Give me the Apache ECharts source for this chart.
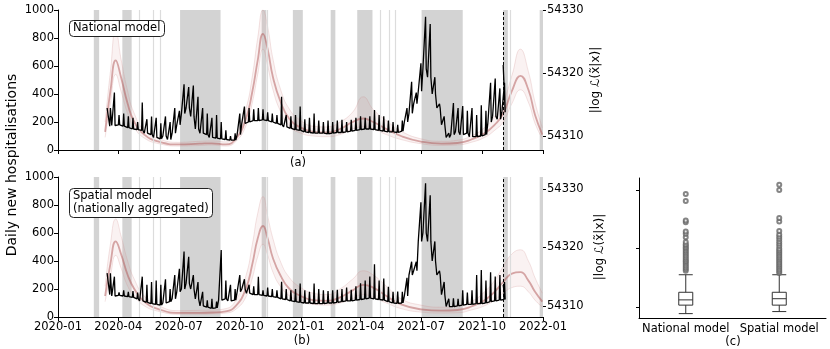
<!DOCTYPE html>
<html>
<head>
<meta charset="utf-8">
<script src="https://cdn.jsdelivr.net/npm/echarts@6/dist/echarts.min.js"></script>
<style>
  html, body { margin: 0; padding: 0; background: #fff; }
  #chart { width: 830px; height: 349px; }
</style>
</head>
<body>
<div id="chart"></div>
<script>
// observed daily admissions, one [base, spike] pair per week from obsStart
const obsStart = '2020-03-15';
const obsEnd = '2021-11-02';
const obsNational = [
  [300, 170], [175, 410], [180, 250], [170, 260], [160, 240],
  [150, 230], [145, 200], [140, 340], [120, 220], [110, 240],
  [90, 230], [80, 190], [100, 240], [75, 200], [120, 300],
  [180, 280], [260, 470], [300, 450], [240, 460], [150, 380],
  [120, 300], [110, 260], [90, 230], [85, 250], [80, 200],
  [75, 140], [70, 100], [70, 120], [110, 260], [190, 310],
  [200, 300], [210, 290], [210, 300], [215, 290], [210, 270],
  [200, 260], [190, 250], [180, 380], [165, 250], [155, 240],
  [145, 250], [140, 310], [130, 220], [125, 230], [120, 260],
  [120, 210], [120, 200], [115, 210], [120, 200], [125, 210],
  [125, 215], [130, 200], [135, 215], [140, 230], [145, 240],
  [150, 230], [150, 240], [145, 285], [140, 250], [135, 240],
  [130, 210], [130, 200], [125, 180], [135, 210], [200, 300],
  [262, 488], [330, 410], [420, 620], [580, 952], [520, 900],
  [400, 520], [300, 330], [180, 240], [90, 120], [110, 336],
  [130, 300], [110, 314], [120, 280], [95, 300], [95, 250],
  [100, 320], [110, 280], [200, 480], [240, 510], [220, 440],
  [270, 480]
];
const obsNationalLast = 607;
const obsSpatial = [
  [313, 160], [150, 288], [155, 175], [150, 190], [145, 180],
  [140, 185], [130, 175], [115, 288], [105, 230], [95, 250],
  [90, 260], [85, 230], [100, 270], [110, 200], [130, 300],
  [180, 345], [200, 467], [240, 430], [200, 300], [130, 250],
  [80, 180], [70, 120], [62, 130], [65, 110], [120, 478],
  [130, 260], [115, 230], [120, 200], [180, 300], [200, 270],
  [170, 230], [160, 220], [160, 288], [155, 190], [150, 210],
  [145, 200], [140, 190], [130, 252], [125, 200], [115, 190],
  [110, 200], [105, 240], [100, 190], [100, 180], [95, 240],
  [95, 200], [95, 190], [100, 185], [100, 190], [105, 195],
  [110, 200], [115, 210], [115, 195], [120, 220], [125, 240],
  [130, 260], [135, 290], [130, 377], [125, 260], [120, 275],
  [110, 216], [100, 180], [98, 181], [100, 180], [150, 280],
  [300, 395], [330, 395], [540, 820], [600, 955], [540, 870],
  [400, 540], [300, 330], [160, 250], [75, 130], [74, 133],
  [80, 130], [85, 190], [90, 175], [90, 190], [95, 300],
  [95, 336], [100, 260], [110, 320], [115, 290], [121, 300],
  [125, 250]
];
const obsSpatialLast = 229;

// model trajectories: central line and spread
const fitDates = [
  '2020-03-12', '2020-03-20', '2020-03-28', '2020-04-05', '2020-04-15', '2020-04-25',
  '2020-05-10', '2020-06-01', '2020-07-01', '2020-08-01', '2020-08-20', '2020-09-10',
  '2020-09-25', '2020-10-10', '2020-10-20', '2020-10-28', '2020-11-05', '2020-11-12',
  '2020-11-20', '2020-12-01', '2020-12-15', '2021-01-01', '2021-01-20', '2021-02-10',
  '2021-03-01', '2021-03-20', '2021-04-05', '2021-04-20', '2021-05-10', '2021-06-01',
  '2021-07-01', '2021-08-01', '2021-08-25', '2021-09-15', '2021-10-05', '2021-10-20',
  '2021-11-02', '2021-11-15', '2021-11-28', '2021-12-10', '2021-12-20', '2021-12-31'
];
const natMean = [130, 420, 640, 520, 330, 200, 110, 60, 40, 45, 48, 40, 80, 220, 420, 640, 830, 720, 520, 350, 220, 160, 130, 125, 150, 200, 225, 200, 150, 100, 60, 45, 50, 75, 120, 180, 260, 420, 530, 430, 250, 110];
const natLo = [90, 330, 540, 420, 260, 160, 85, 45, 28, 32, 35, 28, 60, 170, 340, 540, 720, 600, 430, 280, 170, 120, 100, 95, 110, 150, 165, 150, 110, 75, 45, 33, 36, 55, 90, 140, 200, 330, 430, 340, 190, 80];
const natHi = [200, 560, 860, 650, 420, 260, 140, 80, 55, 62, 65, 58, 110, 290, 530, 800, 1000, 880, 650, 440, 290, 210, 170, 165, 200, 270, 380, 290, 210, 135, 80, 62, 70, 100, 160, 240, 340, 530, 720, 560, 340, 160];
const spaMean = [150, 380, 540, 450, 300, 200, 110, 55, 30, 30, 32, 40, 80, 200, 380, 560, 650, 560, 420, 300, 200, 150, 120, 115, 140, 190, 230, 210, 150, 90, 55, 45, 50, 75, 120, 180, 250, 310, 320, 260, 180, 110];
const spaLo = [110, 290, 440, 350, 220, 150, 80, 40, 20, 20, 22, 28, 55, 140, 280, 430, 520, 440, 320, 220, 150, 110, 90, 85, 100, 130, 160, 140, 100, 60, 35, 28, 30, 50, 80, 120, 170, 210, 220, 180, 120, 70];
const spaHi = [220, 520, 700, 580, 400, 270, 150, 80, 45, 48, 50, 60, 120, 290, 520, 740, 860, 720, 560, 400, 280, 210, 170, 160, 200, 270, 330, 300, 220, 130, 85, 70, 80, 110, 180, 260, 360, 450, 480, 400, 280, 170];

// shaded periods and single days
const spans = [
  ['2020-02-24', '2020-03-03'], ['2020-04-07', '2020-04-21'], ['2020-07-03', '2020-09-02'],
  ['2020-11-03', '2020-11-10'], ['2020-12-20', '2021-01-04'], ['2021-02-15', '2021-02-22'],
  ['2021-03-27', '2021-04-19'], ['2021-07-02', '2021-09-02'], ['2021-11-02', '2021-11-09'],
  ['2021-12-27', '2022-01-01']
];
const thinDays = ['2020-05-02', '2020-05-23', '2020-06-03', '2020-11-12', '2021-05-01', '2021-05-14', '2021-05-24', '2021-11-12'];
const cutoff = '2021-11-02';

// boxplot: [low whisker, Q1, median, Q3, high whisker]
const boxCats = ['National model', 'Spatial model'];
const boxNational = [54308.85, 54310.3, 54311.2, 54312.5, 54315.5];
const boxSpatial = [54309.2, 54310.3, 54311.4, 54312.5, 54315.5];
const outNational = [54316.2, 54316.5, 54316.8, 54317.1, 54317.4, 54317.7, 54317.9, 54318.2, 54318.5, 54318.8, 54319.1, 54319.4, 54319.7, 54320.0, 54320.2, 54320.5, 54320.7, 54321.1, 54321.9, 54322.5, 54322.9, 54324.5, 54324.8, 54328.1, 54329.3];
const outSpatial = [54315.8, 54316.1, 54316.4, 54316.7, 54317.0, 54317.3, 54317.6, 54317.9, 54318.2, 54318.5, 54318.8, 54319.1, 54319.4, 54319.7, 54320.0, 54320.4, 54320.8, 54321.2, 54321.6, 54322.0, 54322.4, 54323.0, 54324.6, 54325.2, 54330.0, 54330.9];

const FONT = 'DejaVu Sans';
const DAY = 86400000;

function ts(s) {
  const p = s.split('-');
  return new Date(+p[0], +p[1] - 1, +p[2]).getTime();
}

// flat weekly base with a one-day reporting spike
function weekly(pairs, last) {
  const t0 = ts(obsStart);
  const out = [];
  pairs.forEach((p, i) => {
    out.push([t0 + 7 * i * DAY, p[0]]);
    out.push([t0 + (7 * i + 3) * DAY, p[0]]);
    out.push([t0 + (7 * i + 4) * DAY, p[1]]);
    out.push([t0 + (7 * i + 5) * DAY, p[0]]);
  });
  out.push([ts(obsEnd), last]);
  return out;
}

function timeAxis(gridIndex, labels) {
  return {
    type: 'time', gridIndex: gridIndex,
    min: ts('2020-01-01'), max: ts('2022-01-01'), splitNumber: 8,
    axisLine: { lineStyle: { color: '#000', width: 1 } },
    axisTick: { show: true, length: 4, lineStyle: { color: '#000' } },
    axisLabel: {
      show: labels, formatter: '{yyyy}-{MM}', color: '#000', fontSize: 11.5, fontFamily: FONT, margin: 4,
      showMinLabel: true, showMaxLabel: true, hideOverlap: false
    },
    splitLine: { show: false }
  };
}

function leftAxis(gridIndex) {
  return {
    type: 'value', gridIndex: gridIndex, min: 0, max: 1000, interval: 200,
    axisLine: { show: true, lineStyle: { color: '#000', width: 1 } },
    axisTick: { show: true, length: 4, lineStyle: { color: '#000' } },
    axisLabel: { color: '#000', fontSize: 11.5, fontFamily: FONT, margin: 4, formatter: v => String(v) },
    splitLine: { show: false }
  };
}

function llAxis(gridIndex, min, max, position, labels) {
  return {
    type: 'value', gridIndex: gridIndex, min: min, max: max, position: position,
    axisLine: { show: position === 'left', lineStyle: { color: '#000', width: 1 } },
    axisTick: { show: true, length: 3, customValues: [54310, 54320, 54330], lineStyle: { color: '#000' } },
    axisLabel: {
      show: labels, customValues: [54310, 54320, 54330], formatter: v => String(Math.round(v)),
      color: '#000', fontSize: 11.5, fontFamily: FONT, margin: 4
    },
    splitLine: { show: false }
  };
}

function panelSeries(axisIdx, obs, mean, lo, hi) {
  const lower = fitDates.map((d, i) => [ts(d), lo[i]]);
  const spread = fitDates.map((d, i) => [ts(d), hi[i] - lo[i]]);
  const upper = fitDates.map((d, i) => [ts(d), hi[i]]);
  return [
    {
      type: 'line', xAxisIndex: axisIdx, yAxisIndex: axisIdx * 2, z: 1, silent: true,
      data: [[ts('2020-01-01'), 0], [ts('2022-01-01'), 0]],
      symbol: 'none', lineStyle: { opacity: 0 },
      markArea: {
        silent: true, itemStyle: { color: '#d3d3d3' },
        data: spans.map(s => [{ xAxis: ts(s[0]) }, { xAxis: ts(s[1]) }])
      },
      markLine: {
        silent: true, symbol: 'none', label: { show: false },
        lineStyle: { color: '#dcdcdc', width: 1.2, type: 'solid' },
        data: thinDays.map(d => ({ xAxis: ts(d) }))
      }
    },
    {
      type: 'line', xAxisIndex: axisIdx, yAxisIndex: axisIdx * 2, z: 2, stack: 'band' + axisIdx,
      data: lower, symbol: 'none', smooth: true, lineStyle: { opacity: 0 }
    },
    {
      type: 'line', xAxisIndex: axisIdx, yAxisIndex: axisIdx * 2, z: 2, stack: 'band' + axisIdx,
      data: spread, symbol: 'none', smooth: true, lineStyle: { opacity: 0 },
      areaStyle: { color: 'rgba(214,150,150,0.18)' }
    },
    {
      type: 'line', xAxisIndex: axisIdx, yAxisIndex: axisIdx * 2, z: 3,
      data: upper, symbol: 'none', smooth: true,
      lineStyle: { color: 'rgba(205,130,130,0.22)', width: 1 }
    },
    {
      type: 'line', xAxisIndex: axisIdx, yAxisIndex: axisIdx * 2, z: 3,
      data: lower, symbol: 'none', smooth: true,
      lineStyle: { color: 'rgba(205,130,130,0.22)', width: 1 }
    },
    {
      type: 'line', xAxisIndex: axisIdx, yAxisIndex: axisIdx * 2, z: 3,
      data: fitDates.map((d, i) => [ts(d), mean[i]]), symbol: 'none', smooth: true,
      lineStyle: { color: 'rgba(175,85,85,0.5)', width: 1.8 }
    },
    {
      type: 'line', xAxisIndex: axisIdx, yAxisIndex: axisIdx * 2, z: 5,
      data: obs, symbol: 'none',
      lineStyle: { color: '#000', width: 1.3 },
      markLine: {
        silent: true, symbol: 'none', label: { show: false },
        lineStyle: { color: '#000', width: 1, type: [3, 2] },
        data: [{ xAxis: ts(cutoff) }]
      }
    }
  ];
}

function textEl(x, y, text, size, rot) {
  return {
    type: 'text', x: x, y: y, rotation: rot || 0,
    style: { text: text, fill: '#000', font: size + 'px "' + FONT + '"', align: 'center', verticalAlign: 'middle' }
  };
}

const chart = echarts.init(document.getElementById('chart'));
const boxStyle = { fontSize: 11.5, fontFamily: FONT, color: '#000', lineHeight: 13 };

chart.setOption({
  animation: false,
  backgroundColor: '#fff',
  title: [
    {
      text: 'National model', left: 69, top: 20, padding: [2, 4],
      borderColor: '#222', borderWidth: 1, borderRadius: 4, backgroundColor: '#fff',
      textStyle: Object.assign({ fontWeight: 'normal' }, boxStyle)
    },
    {
      text: 'Spatial model\n(nationally aggregated)', left: 69, top: 188, padding: [2, 4],
      borderColor: '#222', borderWidth: 1, borderRadius: 4, backgroundColor: '#fff',
      textStyle: Object.assign({ fontWeight: 'normal' }, boxStyle)
    }
  ],
  grid: [
    { left: 58, top: 10, width: 485, height: 140 },
    { left: 58, top: 177, width: 485, height: 140 },
    { left: 639, top: 178, width: 187, height: 140 }
  ],
  xAxis: [
    timeAxis(0, false),
    timeAxis(1, true),
    {
      type: 'category', gridIndex: 2, data: boxCats,
      axisLine: { lineStyle: { color: '#000', width: 1 } },
      axisTick: { show: false },
      axisLabel: { color: '#000', fontSize: 11.5, fontFamily: FONT, margin: 5, interval: 0, hideOverlap: false }
    }
  ],
  yAxis: [
    leftAxis(0),
    llAxis(0, 54307.78, 54330, 'right', true),
    leftAxis(1),
    llAxis(1, 54308.1, 54332.05, 'right', true),
    llAxis(2, 54308.1, 54332.05, 'left', false)
  ],
  series: [].concat(
    panelSeries(0, weekly(obsNational, obsNationalLast), natMean, natLo, natHi),
    panelSeries(1, weekly(obsSpatial, obsSpatialLast), spaMean, spaLo, spaHi),
    [
      {
        type: 'boxplot', xAxisIndex: 2, yAxisIndex: 4, boxWidth: [14, 14],
        data: [boxNational, boxSpatial],
        itemStyle: { color: '#fff', borderColor: '#333', borderWidth: 1 }
      },
      {
        type: 'scatter', xAxisIndex: 2, yAxisIndex: 4, symbol: 'emptyCircle', symbolSize: 4,
        itemStyle: { color: '#666', borderWidth: 0.6 },
        data: outNational.map(v => [0, v]).concat(outSpatial.map(v => [1, v]))
      }
    ]
  ),
  graphic: [
    textEl(12, 165, 'Daily new hospitalisations', 14, Math.PI / 2),
    textEl(596, 80, '|log \u2112(x\u0303|x)|', 12, Math.PI / 2),
    textEl(600, 247, '|log \u2112(x\u0303|x)|', 12, Math.PI / 2),
    textEl(298, 163, '(a)', 11.5),
    textEl(302, 341, '(b)', 11.5),
    textEl(733, 342, '(c)', 11.5)
  ]
});
</script>
</body>
</html>
